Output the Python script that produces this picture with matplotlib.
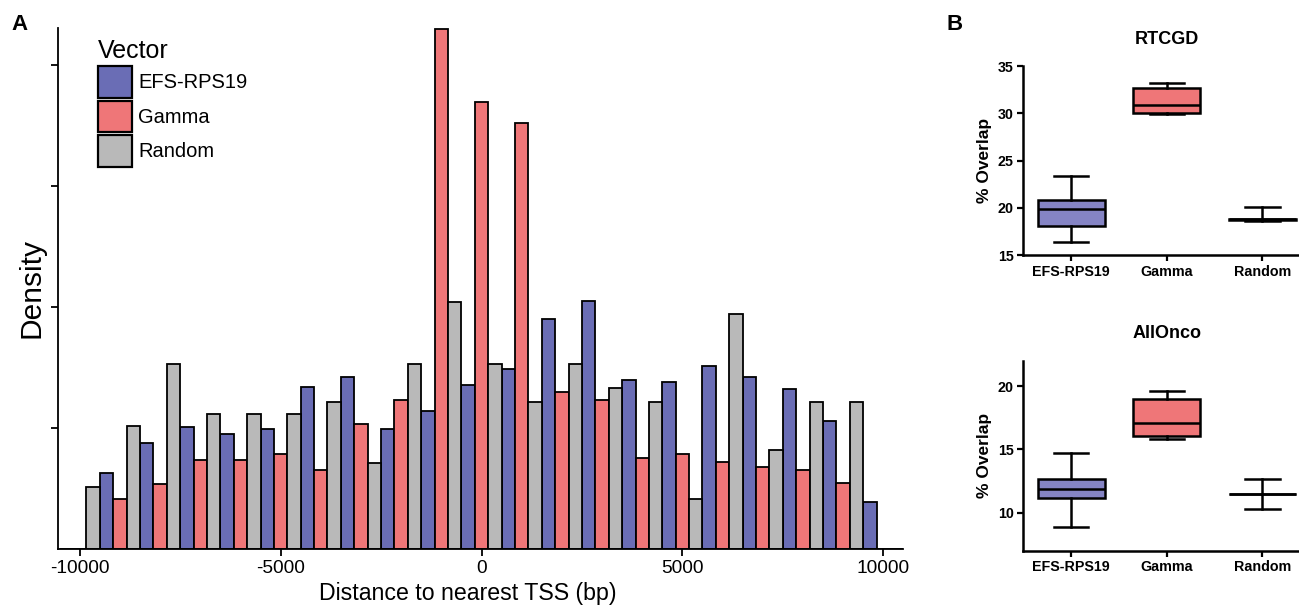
import numpy as np
import matplotlib
matplotlib.use('Agg')
import matplotlib.pyplot as plt
from matplotlib.patches import Patch

plt.rcParams['font.family'] = ['Liberation Sans', 'DejaVu Sans']

# Panel A: dodged histogram, bins of 1000 bp centred on multiples of 1000
bin_centers = np.arange(-10000, 10001, 1000)
efs_density = [0, 0.63, 0.88, 1.01, 0.95, 0.99, 1.34, 1.42, 0.99, 1.14, 1.36,
               1.49, 1.90, 2.05, 1.40, 1.38, 1.51, 1.42, 1.32, 1.06, 0.39]
gamma_density = [0, 0.41, 0.54, 0.74, 0.74, 0.79, 0.65, 1.03, 1.23, 4.30, 3.70,
                 3.52, 1.30, 1.23, 0.75, 0.79, 0.72, 0.68, 0.65, 0.55, 0]
random_density = [0.51, 1.02, 1.53, 1.12, 1.12, 1.12, 1.22, 0.71, 1.53, 2.04, 1.53,
                  1.22, 1.53, 1.33, 1.22, 0.41, 1.94, 0.82, 1.22, 1.22, 0]
series_names = ['EFS-RPS19', 'Gamma', 'Random']
hist_colors = ['#6a6db5', '#ef7678', '#b9b9b9']

# Panel B: box plot summaries (whislo, q1, med, q3, whishi)
groups = ['EFS-RPS19', 'Gamma', 'Random']
rtcgd = [(16.4, 18.1, 19.9, 20.8, 23.4),
         (29.9, 30.05, 30.9, 32.7, 33.2),
         (18.6, 18.7, 18.8, 18.8, 20.1)]
allonco = [(8.9, 11.15, 11.87, 12.68, 14.7),
           (15.8, 16.05, 17.05, 19.0, 19.6),
           (10.3, 11.5, 11.5, 11.5, 12.7)]
box_colors = ['#8584c4', '#ef7678', '#b9b9b9']

fig = plt.figure(figsize=(12.99, 6.06), dpi=100)

# ---- Panel A
ax = fig.add_axes([58/1299, 57/606, 845/1299, 521/606])
bw = 1000/3
for i, (vals, c) in enumerate(zip([efs_density, gamma_density, random_density], hist_colors)):
    x = bin_centers - 500 + bw*i
    ax.bar(x, vals, width=bw, align='edge', color=c, edgecolor='black', linewidth=1.3)
ax.set_xlim(-10540, 10490)
ax.set_ylim(0, 4.31)
ax.set_xticks([-10000, -5000, 0, 5000, 10000])
ax.set_xticklabels(['-10000', '-5000', '0', '5000', '10000'])
ax.set_yticks([1, 2, 3, 4])
ax.set_yticklabels([])
ax.tick_params(axis='both', length=5, width=1.3, labelsize=13.8, colors='black')
ax.tick_params(axis='x', pad=3)
for s in ['top', 'right']:
    ax.spines[s].set_visible(False)
for s in ['left', 'bottom']:
    ax.spines[s].set_linewidth(1.3)
ax.set_xlabel('Distance to nearest TSS (bp)', fontsize=16.7)
ax.xaxis.set_label_coords(0.485, -0.064)
ax.set_ylabel('Density', fontsize=21.5)
ax.yaxis.set_label_coords(-0.015, 0.5)

handles = [Patch(facecolor=c, edgecolor='black', linewidth=1.6) for c in hist_colors]
leg = ax.legend(handles, series_names, title='Vector', loc='upper left',
                bbox_to_anchor=(0.038, 0.994), frameon=False, fontsize=14.5,
                title_fontsize=18, handlelength=1.7, handleheight=2.05,
                handletextpad=0.3, labelspacing=0.14, borderaxespad=0)
leg._legend_box.align = 'left'

fig.text(11/1299, 1 - 25/606, 'A', fontsize=16, fontweight='bold', va='center')
fig.text(947/1299, 1 - 25/606, 'B', fontsize=16, fontweight='bold', va='center')

# ---- Panel B
def box_panel(rect, data, ylim, yticks, title):
    bx = fig.add_axes(rect)
    stats = []
    for g, (lo, q1, med, q3, hi) in zip(groups, data):
        stats.append(dict(label=g, whislo=lo, q1=q1, med=med, q3=q3, whishi=hi, fliers=[]))
    art = bx.bxp(stats, positions=[0, 1, 2], widths=0.7, patch_artist=True,
                 showfliers=False,
                 boxprops=dict(linewidth=1.8, edgecolor='black'),
                 medianprops=dict(color='black', linewidth=1.8),
                 whiskerprops=dict(linewidth=1.8, color='black'),
                 capprops=dict(linewidth=1.8, color='black'),
                 capwidths=0.36)
    for p, c in zip(art['boxes'], box_colors):
        p.set_facecolor(c)
    bx.set_xlim(-0.5, 2.5)
    bx.set_ylim(*ylim)
    bx.set_yticks(yticks)
    bx.set_xticks([0, 1, 2])
    bx.set_xticklabels(groups)
    bx.tick_params(axis='both', length=4, width=1.6, labelsize=10.3, pad=3)
    for lbl in bx.get_xticklabels() + bx.get_yticklabels():
        lbl.set_fontweight('bold')
    for s in ['top', 'right']:
        bx.spines[s].set_visible(False)
    for s in ['left', 'bottom']:
        bx.spines[s].set_linewidth(1.8)
    bx.set_ylabel('% Overlap', fontsize=12.5, fontweight='bold', labelpad=4)
    bx.set_title(title, fontsize=13, fontweight='bold', pad=16)
    return bx

box_panel([1023.3/1299, 1 - 255.3/606, 287/1299, 189.3/606], rtcgd, (15, 35),
          [15, 20, 25, 30, 35], 'RTCGD')
box_panel([1023.3/1299, 1 - 550.7/606, 287/1299, 190/606], allonco, (7, 22),
          [10, 15, 20], 'AllOnco')

fig.savefig('out.png', dpi=100)
